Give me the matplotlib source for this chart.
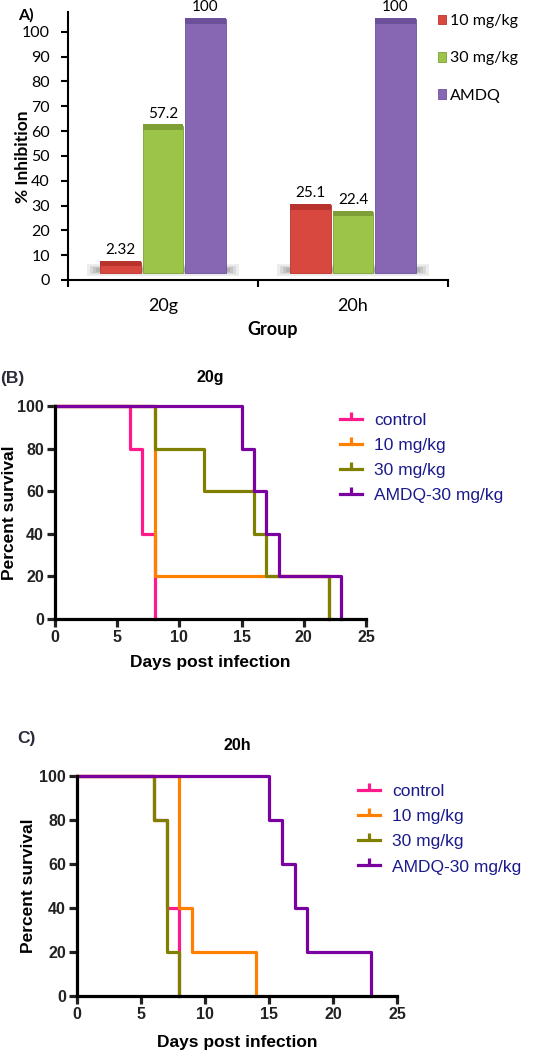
import matplotlib.pyplot as plt
import numpy as np
from matplotlib.lines import Line2D

# Panel A data
groups = ["20g", "20h"]
inh_10 = [2.32, 25.1]
inh_30 = [57.2, 22.4]
inh_amdq = [100, 100]
bar_labels = ["10 mg/kg", "30 mg/kg", "AMDQ"]

# Panels B and C: Kaplan-Meier steps (day, percent survival)
surv_names = ["control", "10 mg/kg", "30 mg/kg", "AMDQ-30 mg/kg"]
g_days = [[0, 6, 7, 8], [0, 8, 22], [0, 8, 12, 16, 17, 22], [0, 15, 16, 17, 18, 23]]
g_surv = [[100, 80, 40, 0], [100, 20, 0], [100, 80, 60, 40, 20, 0], [100, 80, 60, 40, 20, 0]]
h_days = [[0, 6, 7, 8], [0, 8, 9, 14], [0, 6, 7, 8], [0, 15, 16, 17, 18, 23]]
h_surv = [[100, 80, 40, 0], [100, 40, 20, 0], [100, 80, 20, 0], [100, 80, 60, 40, 20, 0]]

W, H = 539, 1050
fig = plt.figure(figsize=(W / 100, H / 100), dpi=100)


def box(l, r, top, bot):
    return [l / W, 1 - bot / H, (r - l) / W, (bot - top) / H]


# ---------- Panel A ----------
axA = fig.add_axes(box(68, 448, 12, 280))
fA = "Lato"
x = np.arange(len(groups))
w = 0.215
off = 0.222
floor = 3
face = ["#d9483f", "#9cc448", "#8767b3"]
cap = ["#b8332c", "#7d9f36", "#6c519a"]

# floor shadow (soft grey band under each group)
for k, a in enumerate([0.15, 0.2, 0.25, 0.3]):
    axA.bar(x, 4.5 - k, bottom=1.8 + k * 0.5, width=0.8 - k * 0.03, color="#8a8a8a", alpha=a, lw=0)

for i, vals in enumerate([inh_10, inh_30, inh_amdq]):
    xs = x + (i - 1) * off
    vals = np.array(vals)
    axA.bar(xs, vals + 2, bottom=floor, width=w, color=face[i], edgecolor=cap[i], lw=0.6, label=bar_labels[i])
    axA.bar(xs, 2.2, bottom=vals + floor + 0.3, width=w, color=cap[i], lw=0)
    for xx, v in zip(xs, vals):
        axA.text(xx, v + 7, f"{v:g}", ha="center", va="bottom", fontsize=11, family=fA)

axA.set_xlim(-0.5, 1.5)
axA.set_ylim(0, 108)
axA.set_yticks(np.arange(0, 101, 10))
axA.set_xticks([-0.5, 0.5, 1.5])
axA.set_xticklabels([])
axA.set_xticks(x, minor=True)
axA.set_xticklabels(groups, minor=True, fontsize=13, family=fA)
axA.tick_params(axis="x", which="minor", length=0, pad=13)
axA.tick_params(axis="x", which="major", length=5, width=1.5, direction="out")
axA.tick_params(axis="y", length=5, width=1.5, labelsize=11.5, pad=8)
for t in axA.get_yticklabels():
    t.set_family(fA)
for s in ["top", "right"]:
    axA.spines[s].set_visible(False)
for s in ["left", "bottom"]:
    axA.spines[s].set_linewidth(1.5)
axA.legend(loc="upper left", bbox_to_anchor=(0.935, 1.045), frameon=False, prop={"family": fA, "size": 11.5},
           handlelength=0.55, handleheight=0.55, handletextpad=0.25, labelspacing=1.45)
fig.text(23 / W, 1 - 157 / H, "% Inhibition", rotation=90, ha="center", va="center",
         fontsize=12.5, fontweight="bold", family=fA)
fig.text(273 / W, 1 - 330 / H, "Group", ha="center", va="center", fontsize=13, fontweight="bold", family=fA)
fig.text(18 / W, 1 - 15 / H, "A)", ha="left", va="center", fontsize=11.5, fontweight="bold", family=fA)

# ---------- Panels B and C ----------
colors = ["#ff1a8c", "#ff8000", "#808000", "#7a00a0"]
fS = "Liberation Sans"
navy = "#1a1a8c"


def km_panel(rect, days, surv, title, leg_anchor, ylab_x, xlab_pad, title_pad):
    ax = fig.add_axes(rect)
    for d, s, c in zip(days, surv, colors):
        ax.step(d, s, where="post", color=c, lw=2.3, clip_on=False)
    ax.set_xlim(0, 25)
    ax.set_ylim(0, 100)
    ax.set_xticks(range(0, 26, 5))
    ax.set_yticks(range(0, 101, 20))
    for s in ["top", "right"]:
        ax.spines[s].set_visible(False)
    for s in ["left", "bottom"]:
        ax.spines[s].set_linewidth(2.3)
    ax.tick_params(length=6, width=2.3, labelsize=11.5, colors="#222222", pad=2)
    for t in ax.get_xticklabels() + ax.get_yticklabels():
        t.set_family(fS)
        t.set_fontweight("bold")
    ax.set_title(title, fontsize=11.5, fontweight="bold", family=fS, pad=title_pad)
    ax.set_xlabel("Days post infection", fontsize=12.5, fontweight="bold", family=fS, labelpad=xlab_pad)
    ax.set_ylabel("Percent survival", fontsize=12.5, fontweight="bold", family=fS)
    ax.yaxis.set_label_coords(ylab_x, 0.5)
    handles = [Line2D([0], [0], color=c, lw=2.3, marker=2, markersize=5, mew=2.3) for c in colors]
    leg = ax.legend(handles, surv_names, loc="upper left", bbox_to_anchor=leg_anchor, frameon=False,
                    prop={"family": fS, "size": 12.5}, handlelength=1.25, handletextpad=0.7,
                    labelspacing=0.58, numpoints=1)
    for t in leg.get_texts():
        t.set_color(navy)
    return ax


km_panel(box(55, 366, 406, 619), g_days, g_surv, "20g", (0.866, 1.042), -(55 - 17) / 311, 7, 17)
km_panel(box(77, 397, 776, 996), h_days, h_surv, "20h", (0.83, 1.036), -(77 - 36) / 320, 9, 19)
fig.text(0 / W, 1 - 378 / H, "(B)", ha="left", va="center", fontsize=12.5, fontweight="bold", family=fS, color="#2a2a3a")
fig.text(17 / W, 1 - 739 / H, "C)", ha="left", va="center", fontsize=12.5, fontweight="bold", family=fS, color="#2a2a3a")

fig.savefig("out.png", dpi=100)
